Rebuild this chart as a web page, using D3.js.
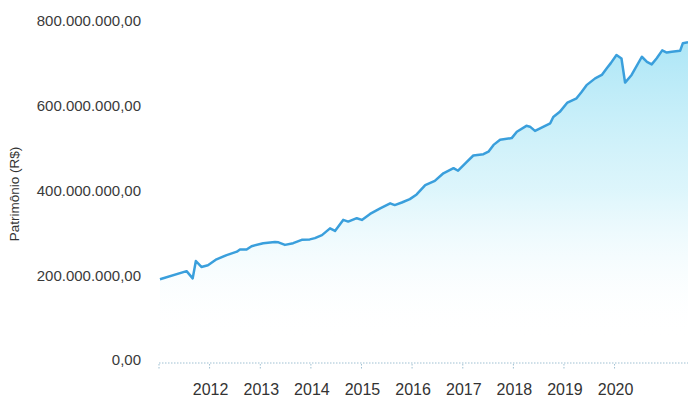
<!DOCTYPE html>
<html>
<head>
<meta charset="utf-8">
<script src="https://cdn.jsdelivr.net/npm/d3@7"></script>
<style>
  body { margin: 0; background: #fff; }
  svg { display: block; font-family: "Liberation Sans", Arial, sans-serif; }
</style>
</head>
<body>
<script>
// Patrimônio (R$ milhões) ao longo do tempo
const dates = [
  "2011-01-08", "2011-07-19", "2011-09-01", "2011-09-24", "2011-11-03", "2011-12-20",
  "2012-02-20", "2012-05-03", "2012-07-16", "2012-08-07", "2012-09-24", "2012-10-30",
  "2013-01-22", "2013-04-16", "2013-05-12", "2013-06-28", "2013-08-26", "2013-10-27",
  "2013-12-24", "2014-01-30", "2014-03-22", "2014-05-19", "2014-06-24", "2014-08-22",
  "2014-09-27", "2014-11-28", "2015-01-04", "2015-03-04", "2015-05-16", "2015-07-27",
  "2015-08-29", "2015-10-19", "2015-12-16", "2016-02-03", "2016-04-05", "2016-06-13",
  "2016-08-14", "2016-10-26", "2016-11-28", "2017-01-30", "2017-03-18", "2017-05-30",
  "2017-07-05", "2017-08-11", "2017-09-27", "2017-12-20", "2018-01-26", "2018-04-05",
  "2018-05-01", "2018-06-06", "2018-07-13", "2018-08-18", "2018-09-24", "2018-10-16",
  "2018-12-02", "2019-01-26", "2019-04-02", "2019-05-08", "2019-06-13", "2019-08-14",
  "2019-10-01", "2019-11-06", "2019-12-05", "2020-01-15", "2020-02-20", "2020-03-17",
  "2020-05-03", "2020-07-16", "2020-08-22", "2020-09-25", "2020-10-30", "2020-12-10",
  "2021-01-12", "2021-02-17", "2021-04-18", "2021-05-08", "2021-06-14"
];
const values = [
  193, 212, 195, 236, 222, 226,
  240, 250, 258, 263, 263, 271,
  278, 281, 280, 274, 278, 286,
  287, 290, 297, 313, 307, 333,
  329, 337, 333, 347, 360, 372,
  368, 374, 382, 393, 415, 425,
  443, 455, 449, 470, 485, 488,
  494, 510, 522, 526, 541, 555,
  553, 543, 549, 555, 561, 576,
  588, 610, 620, 635, 651, 667,
  675, 691, 703, 722, 714, 657,
  675, 718, 706, 700, 714, 733,
  728, 730, 732, 750, 752
];
const yTicks = [0, 200, 400, 600, 800];
const yearTicks = [2011, 2012, 2013, 2014, 2015, 2016, 2017, 2018, 2019, 2020];
const yTitle = "Patrimônio (R$)";

const width = 688, height = 400;
const parse = d3.timeParse("%Y-%m-%d");
const data = dates.map((d, i) => ({ date: parse(d), value: values[i] }));

const svg = d3.select("body").append("svg")
    .attr("width", width)
    .attr("height", height);

const x = d3.scaleTime()
    .domain([new Date(2011, 0, 1), data[data.length - 1].date])
    .range([159, 688]);

const y = d3.scaleLinear()
    .domain([0, 800])
    .range([361, 22]);

// gradient for the area under the line
const grad = svg.append("defs").append("linearGradient")
    .attr("id", "fillGrad")
    .attr("gradientUnits", "userSpaceOnUse")
    .attr("x1", 0).attr("x2", 0)
    .attr("y1", 40).attr("y2", 340);
grad.append("stop").attr("offset", "0%").attr("stop-color", "#a3e3f5").attr("stop-opacity", 0.9);
grad.append("stop").attr("offset", "50%").attr("stop-color", "#c6eff9").attr("stop-opacity", 0.6);
grad.append("stop").attr("offset", "100%").attr("stop-color", "#ffffff").attr("stop-opacity", 0);

svg.append("path")
    .datum(data)
    .attr("fill", "url(#fillGrad)")
    .attr("d", d3.area()
        .x(d => x(d.date))
        .y0(y(0))
        .y1(d => y(d.value)));

svg.append("path")
    .datum(data)
    .attr("fill", "none")
    .attr("stroke", "#3a9fdc")
    .attr("stroke-width", 2.5)
    .attr("stroke-linejoin", "round")
    .attr("d", d3.line()
        .x(d => x(d.date))
        .y(d => y(d.value)));

// y axis labels (no line)
svg.append("g")
  .selectAll("text")
  .data(yTicks)
  .join("text")
    .attr("x", 141)
    .attr("y", d => y(d) - 1)
    .attr("dy", "0.35em")
    .attr("text-anchor", "end")
    .style("font-size", "15px")
    .style("fill", "#3a3a3a")
    .text(d => d3.format(",.2f")(d * 1e6).replace(/,/g, "#").replace(".", ",").replace(/#/g, "."));

// x axis: dotted base line and ticks
const xAxis = svg.append("g");
xAxis.append("line")
    .attr("x1", 159).attr("x2", 688)
    .attr("y1", 363).attr("y2", 363)
    .attr("stroke", "#9fc0d2")
    .attr("stroke-dasharray", "1.5,1.5");
xAxis.selectAll("line.tick")
  .data(yearTicks)
  .join("line")
    .attr("class", "tick")
    .attr("x1", d => x(new Date(d, 0, 1)))
    .attr("x2", d => x(new Date(d, 0, 1)))
    .attr("y1", 364).attr("y2", 369)
    .attr("stroke", "#9fc0d2")
    .attr("stroke-dasharray", "1.5,1.5");
xAxis.selectAll("text")
  .data(yearTicks.slice(1))
  .join("text")
    .attr("x", d => x(new Date(d, 0, 1)) + 1)
    .attr("y", 389)
    .attr("dy", "0.35em")
    .attr("text-anchor", "middle")
    .style("font-size", "16px")
    .style("fill", "#333")
    .text(d => d);

svg.append("text")
    .attr("transform", "translate(19,194) rotate(-90)")
    .attr("text-anchor", "middle")
    .style("font-size", "13.5px")
    .style("fill", "#333")
    .text(yTitle);
</script>
</body>
</html>
